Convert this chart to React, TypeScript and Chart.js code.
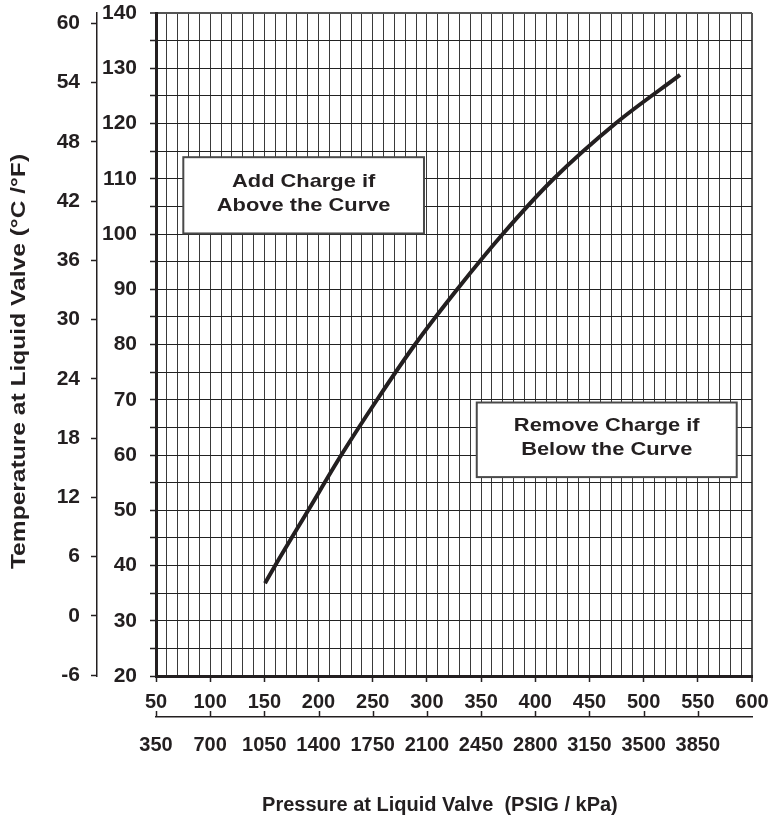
import React, { useEffect, useRef } from 'react';
import { Chart, registerables } from 'chart.js';

Chart.register(...registerables);

// ---- data ----
const PRESSURE_PSIG = [150.6, 160, 190.5, 221, 254, 289, 328, 370, 417, 474, 533.6];
const TEMP_F = [36.8, 40, 50, 60, 70, 80, 90, 100, 110, 120, 128.8];

const PSI_TICK_LABELS = [50, 100, 150, 200, 250, 300, 350, 400, 450, 500, 550, 600];
const KPA_TICK_PSI = [50, 100, 150, 200, 250, 300, 350, 400, 450, 500, 550];
const KPA_TICK_LABELS = ['350', '700', '1050', '1400', '1750', '2100', '2450', '2800', '3150', '3500', '3850'];
const F_TICK_LABELS = [20, 30, 40, 50, 60, 70, 80, 90, 100, 110, 120, 130, 140];
const C_TICK_LABELS = [-6, 0, 6, 12, 18, 24, 30, 36, 42, 48, 54, 60];

const NOTE_ADD = ['Add Charge if', 'Above the Curve'];
const NOTE_REMOVE = ['Remove Charge if', 'Below the Curve'];
const X_TITLE = 'Pressure at Liquid Valve  (PSIG / kPa)';
const Y_TITLE = 'Temperature at Liquid Valve (°C /°F)';

// note boxes placed in data coordinates (psi / °F)
const NOTE_BOXES = [
  { lines: NOTE_ADD, x0: 75.2, x1: 297.3, y0: 100.1, y1: 113.9 },
  { lines: NOTE_REMOVE, x0: 346, x1: 585.9, y0: 56, y1: 69.5 },
];
// x-axis title centre, in psi
const X_TITLE_AT = 312;

const INK = '#231f20';
const FAMILY = '"Liberation Sans", Arial, Helvetica, sans-serif';
const X_FONT = { family: FAMILY, size: 20, weight: 'bold' as const };
const Y_FONT = { family: FAMILY, size: 21, weight: 'bold' as const };

const noPadX = (h: number) => (s: any) => {
  s.height = h;
  s.paddingLeft = 0;
  s.paddingRight = 0;
};
const noPadY = (w: number) => (s: any) => {
  s.width = w;
  s.paddingTop = 0;
  s.paddingBottom = 0;
};

const overlayPlugin = {
  id: 'overlay',
  afterDraw(chart: any) {
    const { ctx, scales } = chart;
    const xs = scales.x;
    const ys = scales.y;
    const ks = scales.kpa;
    const cs = scales.c;
    ctx.save();
    // note boxes
    for (const b of NOTE_BOXES) {
      const l = xs.getPixelForValue(b.x0);
      const r = xs.getPixelForValue(b.x1);
      const t = ys.getPixelForValue(b.y1);
      const btm = ys.getPixelForValue(b.y0);
      ctx.fillStyle = '#ffffff';
      ctx.fillRect(l, t, r - l, btm - t);
      ctx.strokeStyle = '#4a4a4a';
      ctx.lineWidth = 2;
      ctx.strokeRect(l, t, r - l, btm - t);
      ctx.fillStyle = INK;
      ctx.font = `bold 19px ${FAMILY}`;
      ctx.textAlign = 'center';
      ctx.textBaseline = 'middle';
      const cx = (l + r) / 2;
      const cy = (t + btm) / 2 - 2;
      const n = b.lines.length;
      b.lines.forEach((s: string, i: number) => {
        ctx.save();
        ctx.translate(cx, cy + (i - (n - 1) / 2) * 24);
        ctx.scale(1.15, 1);
        ctx.fillText(s, 0, 0);
        ctx.restore();
      });
    }
    // upward tick marks on the kPa axis line
    ctx.strokeStyle = INK;
    ctx.lineWidth = 1.5;
    for (const t of ks.ticks) {
      const px = Math.round(ks.getPixelForValue(t.value)) + 0.5;
      ctx.beginPath();
      ctx.moveTo(px, ks.top - 6);
      ctx.lineTo(px, ks.top);
      ctx.stroke();
    }
    // horizontal axis title
    ctx.fillStyle = INK;
    ctx.font = `bold 20px ${FAMILY}`;
    ctx.textAlign = 'center';
    ctx.textBaseline = 'middle';
    ctx.fillText(X_TITLE, xs.getPixelForValue(X_TITLE_AT), ks.bottom - 20);
    // vertical axis title
    ctx.save();
    ctx.translate(cs.left + 19, (ys.top + ys.bottom) / 2 + 17);
    ctx.rotate(-Math.PI / 2);
    ctx.scale(1.17, 1);
    ctx.font = `bold 21px ${FAMILY}`;
    ctx.fillText(Y_TITLE, 0, 0);
    ctx.restore();
    ctx.restore();
  },
};

export default function App() {
  const ref = useRef<HTMLCanvasElement | null>(null);

  useEffect(() => {
    if (!ref.current) return;
    const chart = new Chart(ref.current, {
      type: 'scatter',
      data: {
        datasets: [
          {
            data: PRESSURE_PSIG.map((p, i) => ({ x: p, y: TEMP_F[i] })),
            showLine: true,
            borderColor: INK,
            borderWidth: 4,
            pointRadius: 0,
            cubicInterpolationMode: 'monotone',
            borderCapStyle: 'butt',
            fill: false,
            xAxisID: 'x',
            yAxisID: 'y',
          } as any,
        ],
      },
      options: {
        responsive: false,
        animation: false,
        devicePixelRatio: 1,
        layout: { padding: { left: 0, top: 13, right: 21, bottom: 0 } },
        plugins: { legend: { display: false }, tooltip: { enabled: false } },
        scales: {
          x: {
            type: 'linear',
            position: 'bottom',
            weight: 0,
            min: 50,
            max: 600,
            afterFit: noPadX(41),
            ticks: {
              stepSize: 10,
              autoSkip: false,
              maxRotation: 0,
              minRotation: 0,
              padding: 8,
              color: INK,
              font: X_FONT,
              callback: (v: any) => (PSI_TICK_LABELS.includes(v) ? String(v) : ''),
            },
            grid: {
              color: (c: any) => (c.tick && c.tick.value === 600 ? '#555555' : '#3a3a3a'),
              lineWidth: (c: any) => (c.tick && c.tick.value === 600 ? 2 : 1),
              tickLength: 6,
              tickWidth: 1.5,
              tickColor: (c: any) => (c.tick && PSI_TICK_LABELS.includes(c.tick.value) ? INK : 'rgba(0,0,0,0)'),
            },
            border: { display: true, color: INK, width: 3 },
          },
          kpa: {
            type: 'linear',
            axis: 'x',
            position: 'bottom',
            weight: 1,
            min: 50,
            max: 600,
            afterFit: noPadX(108),
            afterBuildTicks: (s: any) => { s.ticks = KPA_TICK_PSI.map((v) => ({ value: v })); },
            ticks: {
              autoSkip: false,
              maxRotation: 0,
              minRotation: 0,
              padding: 16,
              color: INK,
              font: X_FONT,
              callback: (_v: any, i: number) => KPA_TICK_LABELS[i],
            },
            grid: { display: true, drawOnChartArea: false, drawTicks: false },
            border: { display: true, color: INK, width: 1.5 },
          },
          y: {
            type: 'linear',
            position: 'left',
            weight: 0,
            min: 20,
            max: 140,
            afterFit: noPadY(59),
            ticks: {
              stepSize: 5,
              autoSkip: false,
              padding: 13,
              color: INK,
              font: Y_FONT,
              callback: (v: any) => (F_TICK_LABELS.includes(v) ? String(v) : ''),
            },
            grid: {
              color: (c: any) => (c.tick && c.tick.value === 140 ? '#555555' : '#222222'),
              lineWidth: (c: any) => (c.tick && c.tick.value === 140 ? 2 : 1),
              tickLength: 6,
              tickWidth: 1.5,
              tickColor: INK,
            },
            border: { display: true, color: INK, width: 3 },
          },
          c: {
            type: 'linear',
            axis: 'y',
            position: 'left',
            weight: 1,
            min: -6.1,
            max: 61.06,
            afterFit: noPadY(97),
            afterBuildTicks: (s: any) => { s.ticks = C_TICK_LABELS.map((v) => ({ value: v })); },
            ticks: {
              autoSkip: false,
              padding: 11,
              color: INK,
              font: Y_FONT,
              callback: (v: any) => String(v),
            },
            grid: { display: true, drawOnChartArea: false, tickLength: 6, tickWidth: 1.5, tickColor: INK },
            border: { display: true, color: INK, width: 1.5 },
          },
        } as any,
      },
      plugins: [overlayPlugin],
    });
    return () => chart.destroy();
  }, []);

  return (
    <div style={{ position: 'fixed', left: 0, top: 0, width: 773, height: 825, background: '#ffffff' }}>
      <canvas ref={ref} width={773} height={825} style={{ display: 'block' }} />
    </div>
  );
}
